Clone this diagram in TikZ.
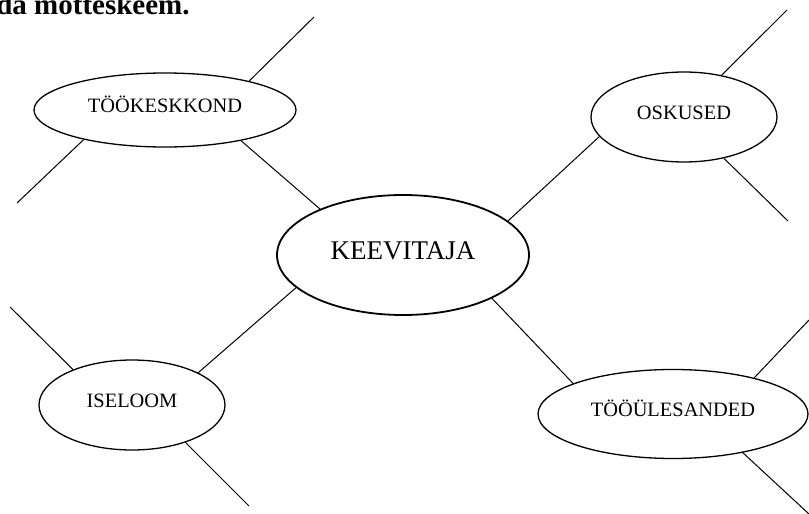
\documentclass[tikz,border=0pt]{standalone}
\usepackage{fontspec}
\setmainfont{Liberation Serif}
\usetikzlibrary{shapes.geometric}

\begin{document}
\begin{tikzpicture}[
    x=0.5pt, y=-0.5pt,
    bubble/.style={ellipse, draw, line width=0.65pt, inner sep=0pt, text height=7pt, text depth=5pt, font=\fontsize{10.2}{12}\selectfont},
    hub/.style={ellipse, draw, line width=0.9pt, inner sep=0pt, minimum width=126pt, minimum height=60pt, text height=10pt, text depth=6pt, font=\fontsize{13.5}{16}\selectfont},
    link/.style={line width=0.5pt}
]
\useasboundingbox (0,0) rectangle (809,514);

% heading, cut by the page edge
\node[anchor=base east, inner sep=0pt, font=\fontsize{14.5}{16}\selectfont\bfseries] (title) at (190,14) {Täida mõtteskeem.};

% ellipses
\node[hub] (keevitaja) at (403,255) {KEEVITAJA};
\node[bubble, minimum width=131pt, minimum height=37pt] (tookeskkond) at (165,110) {TÖÖKESKKOND};
\node[bubble, minimum width=93pt, minimum height=45pt] (oskused) at (684,117) {OSKUSED};
\node[bubble, minimum width=93pt, minimum height=45pt] (iseloom) at (132,405) {ISELOOM};
\node[bubble, minimum width=135pt, minimum height=44.5pt] (tooylesanded) at (673,414) {TÖÖÜLESANDED};

% free ends
\coordinate (tk1) at (314,17);
\coordinate (tk2) at (17,203);
\coordinate (os1) at (787,10);
\coordinate (os2) at (788,221);
\coordinate (is1) at (10,307);
\coordinate (is2) at (249,506);
\coordinate (ty1) at (809,320);
\coordinate (ty2) at (809,514);

% links to the centre
\draw[link] (keevitaja.151) -- (tookeskkond.-22);
\draw[link] (keevitaja.18) -- (oskused.193);
\draw[link] (keevitaja.197) -- (iseloom.26);
\draw[link] (keevitaja.-26) -- (tooylesanded.163);

% branches
\draw[link] (tookeskkond.19) -- (tk1);
\draw[link] (tookeskkond.200) -- (tk2);
\draw[link] (oskused.48) -- (os1);
\draw[link] (oskused.-46) -- (os2);
\draw[link] (iseloom.149) -- (is1);
\draw[link] (iseloom.-35) -- (is2);
\draw[link] (tooylesanded.24) -- (ty1);
\draw[link] (tooylesanded.-29) -- (ty2);
\end{tikzpicture}
\end{document}
